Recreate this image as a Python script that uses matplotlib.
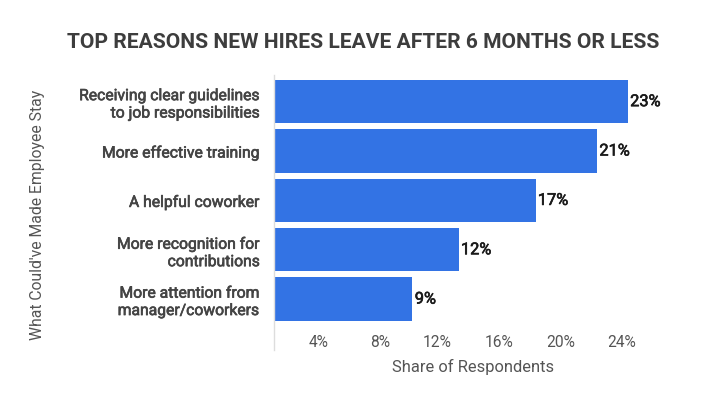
import matplotlib
matplotlib.use('agg')
import matplotlib.pyplot as plt
import matplotlib.patheffects as pe

plt.rcParams['font.family'] = ['Roboto', 'DejaVu Sans']

reasons = ["Receiving clear guidelines\nto job responsibilities",
           "More effective training",
           "A helpful coworker",
           "More recognition for\ncontributions",
           "More attention from\nmanager/coworkers"]
shares = [23, 21, 17, 12, 9]
ticks = [4, 8, 12, 16, 20, 24]

W, H = 728, 395
fig = plt.figure(figsize=(W / 100, H / 100), dpi=100)
# axes box in pixels: left 274, right 674, top 75, bottom 350
ax = fig.add_axes([274 / W, 1 - 350 / H, 400 / W, 275 / H])

# fake a medium weight: regular face with a thin outline
medium = [pe.withStroke(linewidth=0.45, foreground='#444444')]
medium_dark = [pe.withStroke(linewidth=0.45, foreground='#1a1a1a')]

ypos = list(range(len(reasons)))
ax.barh(ypos, shares, height=0.88, color='#3373e4', zorder=2)
ax.set_xlim(0, 26)
ax.set_ylim(5.03, -0.54)

for y, v in zip(ypos, shares):
  ax.text(v + 0.15, y, f"{v}%", va='center', ha='left', fontsize=11.8,
          color='#1a1a1a', path_effects=medium_dark)

for t in ticks:
  ax.text(t - 0.45, 4.87, f"{t}%", va='center', ha='right', fontsize=11.2,
          color='#555555')

ax.set_yticks(ypos)
ax.set_yticklabels(reasons, fontsize=11.3, color='#444444', linespacing=1.2)
for lbl in ax.get_yticklabels():
  lbl.set_path_effects(medium)
ax.tick_params(axis='y', length=0, pad=10)
ax.set_xticks([])

for s in ['top', 'right', 'bottom']:
  ax.spines[s].set_visible(False)
ax.spines['left'].set_color('#dddddd')
ax.spines['left'].set_linewidth(1)

fig.text(363 / W, 1 - 42 / H, "TOP REASONS NEW HIRES LEAVE AFTER 6 MONTHS OR LESS",
         ha='center', va='center', fontsize=15.1, fontweight='bold', color='#3d3d3d')
fig.text(38 / W, 1 - 215 / H, "What Could've Made Employee Stay", rotation=90,
         ha='center', va='center', fontsize=11.3, color='#555555')
fig.text(473 / W, 1 - 367 / H, "Share of Respondents", ha='center', va='center',
         fontsize=11.9, color='#555555')

fig.savefig('out.png', dpi=100)
